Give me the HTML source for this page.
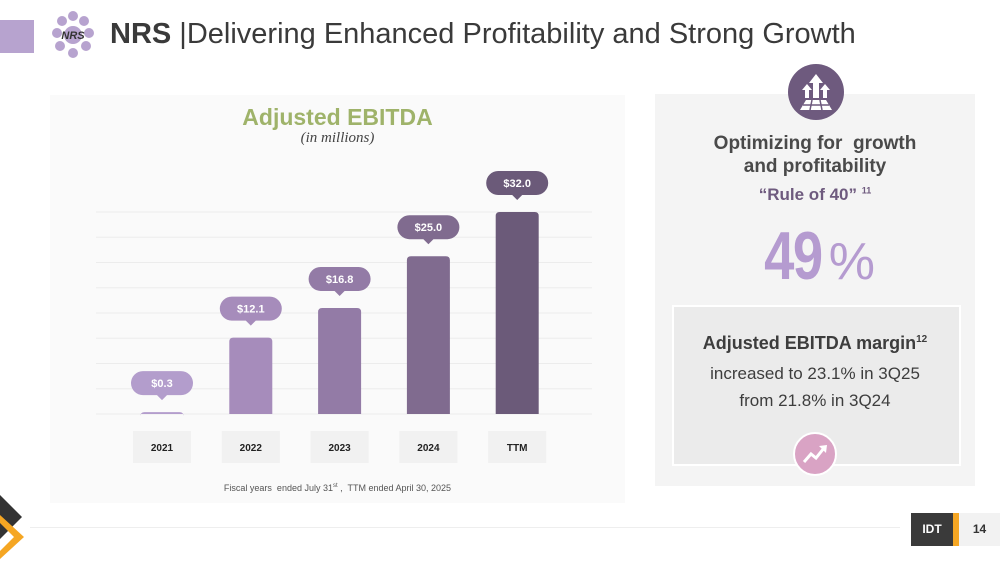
<!DOCTYPE html>
<html><head><meta charset="utf-8">
<style>
body{margin:0;width:1000px;height:563px;background:#fff;position:relative;overflow:hidden;font-family:"Liberation Sans",sans-serif;}
.abs{position:absolute;}
</style></head>
<body>
<div class="abs" style="left:0;top:20px;width:34px;height:33px;background:#b7a3cf"></div>
<svg class="abs" style="left:48px;top:8px" width="50" height="55" viewBox="0 0 50 55">
<g fill="#b7a3cf"><circle cx="25" cy="8" r="5"/><circle cx="14" cy="13" r="5"/><circle cx="36" cy="13" r="5"/><circle cx="9" cy="25" r="5"/><circle cx="41" cy="25" r="5"/><circle cx="12" cy="38" r="5"/><circle cx="38" cy="38" r="5"/><circle cx="25" cy="45" r="5"/><circle cx="25" cy="27" r="9"/></g>
<text x="25" y="31" font-size="11" font-weight="bold" text-anchor="middle" fill="#333" font-style="italic">NRS</text></svg>
<div class="abs" style="left:110px;top:18px;font-size:29px;color:#3a3a3a;white-space:nowrap"><b>NRS</b> |Delivering Enhanced Profitability and Strong Growth</div>

<div class="abs" style="left:50px;top:95px;width:575px;height:408px;background:#fafafa"></div>
<div class="abs" style="left:50px;top:104px;width:575px;text-align:center;font-size:23px;font-weight:bold;color:#9fb36a">Adjusted EBITDA</div>
<div class="abs" style="left:50px;top:130px;width:575px;text-align:center;font-size:15px;font-style:italic;color:#444;font-family:'Liberation Serif',serif">(in millions)</div>
<svg class="abs" id="chart" style="left:0;top:0" width="640" height="500"></svg>
<div class="abs" style="left:50px;top:483px;width:575px;text-align:center;font-size:9px;color:#555">Fiscal years&nbsp; ended July 31<sup style="font-size:6px">st</sup> ,&nbsp; TTM ended April 30, 2025</div>

<div class="abs" style="left:655px;top:94px;width:320px;height:392px;background:#f4f4f4"></div>
<svg class="abs" style="left:788px;top:64px" width="56" height="56"><circle cx="28" cy="28" r="28" fill="#6e5a7e"/><g fill="#fff"><polygon points="28,10 21,19 25,19 25,34 31,34 31,19 35,19"/><polygon points="19,20 14,26 17,26 17,34 21,34 21,26 24,26"/><polygon points="37,20 32,26 35,26 35,34 39,34 39,26 42,26"/><polygon points="12,46 18,36 38,36 44,46"/></g><g stroke="#6e5a7e" stroke-width="1.5"><line x1="24" y1="36" x2="22" y2="46"/><line x1="32" y1="36" x2="34" y2="46"/><line x1="15" y1="41" x2="41" y2="41"/></g></svg>
<div class="abs" style="left:655px;top:132px;width:320px;text-align:center;font-size:19px;font-weight:bold;color:#4a4a4a;line-height:23px">Optimizing for&nbsp; growth<br>and profitability</div>
<div class="abs" style="left:655px;top:185px;width:320px;text-align:center;font-size:17px;font-weight:bold;color:#6e5a7e">“Rule of 40” <sup style="font-size:9px">11</sup></div>
<div class="abs" style="left:655px;top:220px;width:320px;text-align:center;font-size:68px;font-weight:bold;color:#b59bd0;letter-spacing:-2px;line-height:72px"><span style="display:inline-block;transform:scaleX(0.8)">49</span><span style="font-weight:normal;font-size:52px">%</span></div>
<div class="abs" style="left:672px;top:305px;width:285px;height:157px;background:#ebebeb;border:2px solid #fff"></div>
<div class="abs" style="left:655px;top:333px;width:320px;text-align:center;font-size:18px;font-weight:bold;color:#3d3d3d">Adjusted EBITDA margin<sup style="font-size:10px">12</sup></div>
<div class="abs" style="left:655px;top:360px;width:320px;text-align:center;font-size:17px;color:#3d3d3d;line-height:27px">increased to 23.1% in 3Q25<br>from 21.8% in 3Q24</div>
<svg class="abs" style="left:793px;top:432px" width="44" height="44"><circle cx="22" cy="22" r="21" fill="#d9a3c4" stroke="#fff" stroke-width="2"/><polyline points="11,30 18,22 23,26 31,16" fill="none" stroke="#fff" stroke-width="3"/><polygon points="26,14 34,13 33,21" fill="#fff"/></svg>

<div class="abs" style="left:30px;top:527px;width:870px;height:1px;background:#eee"></div>
<svg class="abs" style="left:0;top:495px" width="28" height="68"><polygon points="0,0 22,22 0,44" fill="#333"/><polygon points="0,20 24,42 0,64 0,56 14,42 0,28" fill="#f5a623"/></svg>
<div class="abs" style="left:911px;top:513px;width:42px;height:33px;background:#3a3a3a;color:#fff;font-weight:bold;font-size:12px;line-height:33px;text-align:center">IDT</div>
<div class="abs" style="left:953px;top:513px;width:6px;height:33px;background:#f5a623"></div>
<div class="abs" style="left:959px;top:513px;width:41px;height:33px;background:#f2f2f2;color:#333;font-weight:bold;font-size:12px;line-height:33px;text-align:center">14</div>

<script>
const categories = ["2021","2022","2023","2024","TTM"];
const values = [0.3,12.1,16.8,25.0,32.0];
const valueLabels = ["$0.3","$12.1","$16.8","$25.0","$32.0"];
const gridTicks = [0,4,8,12,16,20,24,28,32];
const colors = ["#b39dcc","#a68cbb","#937ba6","#806b8f","#6b5a79"];

const svg = document.getElementById('chart');
const NS = "http://www.w3.org/2000/svg";
const baseY = 414, topY = 212, maxV = 32;
const x0 = 118, step = 88.8, barW = 43;
const y = v => baseY - (v / maxV) * (baseY - topY);
const xc = i => x0 + 44 + i * step;
function mk(tag, attrs){const e=document.createElementNS(NS,tag);for(const k in attrs)e.setAttribute(k,attrs[k]);svg.appendChild(e);return e;}

gridTicks.forEach(t=>{
  const l = mk('line',{x1:96,x2:592,y1:y(t),y2:y(t),stroke:'#ececec','stroke-width':1});
  
  
});
categories.forEach((c,i)=>{
  const cx = xc(i), top = y(values[i]);
  const r = mk('path',{d:`M${cx-barW/2},${baseY} L${cx-barW/2},${top+4} Q${cx-barW/2},${top} ${cx-barW/2+4},${top} L${cx+barW/2-4},${top} Q${cx+barW/2},${top} ${cx+barW/2},${top+4} L${cx+barW/2},${baseY} Z`,fill:colors[i]});
  
  
  const by = top - 29;
  const b = mk('path',{d:`M${cx-19},${by-12} L${cx+19},${by-12} A12,12 0 0 1 ${cx+19},${by+12} L${cx+5},${by+12} L${cx},${by+17} L${cx-5},${by+12} L${cx-19},${by+12} A12,12 0 0 1 ${cx-19},${by-12} Z`,fill:colors[i]});
  
  
  const t = mk('text',{x:cx,y:by+4,'text-anchor':'middle','font-size':11,'font-weight':'bold',fill:'#fff','font-family':'Liberation Sans, sans-serif'});
  t.textContent = valueLabels[i];
  
  
  const box = mk('rect',{x:cx-29,y:431,width:58,height:32,fill:'#f1f1f1'});
  
  
  const ct = mk('text',{x:cx,y:451,'text-anchor':'middle','font-size':10,'font-weight':'bold',fill:'#222','font-family':'Liberation Sans, sans-serif'});
  ct.textContent = c;
  
  
});
</script>
</body></html>
